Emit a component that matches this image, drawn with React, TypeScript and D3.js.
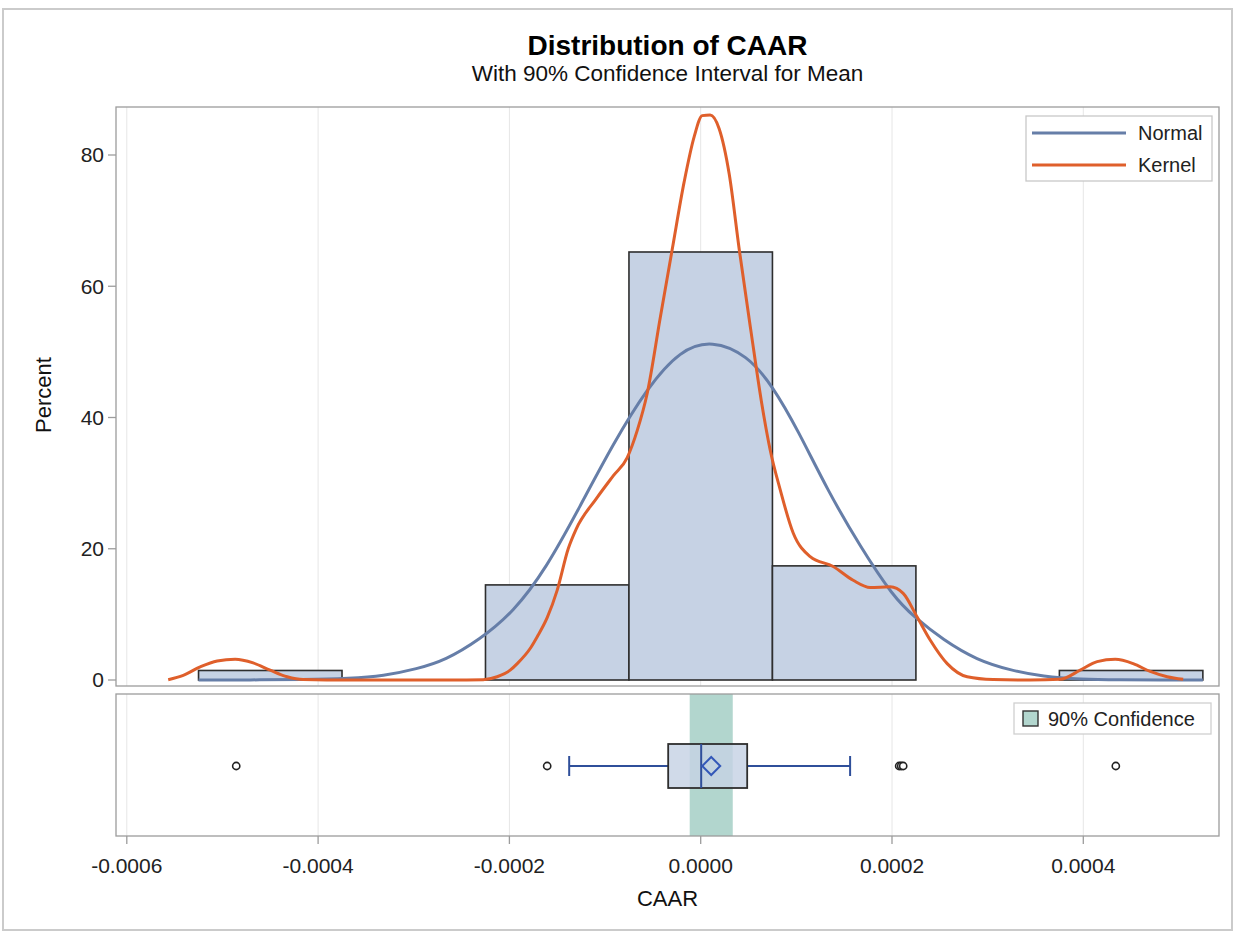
import React from "react";
import * as d3 from "d3";

// ---------- data ----------
const binLower = [-0.000525, -0.000375, -0.000225, -0.000075, 0.000075, 0.000225, 0.000375];
const binUpper = [-0.000375, -0.000225, -0.000075, 0.000075, 0.000225, 0.000375, 0.000525];
const binPercent = [1.449, 0, 14.49, 65.22, 17.39, 0, 1.449];

const normalX = [-5.25e-4, -4.71e-4, -4.156e-4, -3.665e-4, -3.319e-4, -2.964e-4, -2.671e-4, -2.316e-4, -1.96e-4, -1.615e-4, -1.26e-4, -0.915e-4, -0.56e-4, -0.214e-4, 0.12e-4, 0.486e-4, 0.748e-4, 1.019e-4, 1.323e-4, 1.668e-4, 2.013e-4, 2.232e-4, 2.535e-4, 2.891e-4, 3.236e-4, 3.581e-4, 3.968e-4, 4.386e-4, 4.804e-4, 5.25e-4];
const normalY = [0, 0.01, 0.06, 0.25, 0.6, 1.7, 3.0, 6.1, 10.3, 17.0, 26.5, 36.0, 44.5, 50.3, 51.8, 49.5, 44.9, 38.0, 29.0, 20.3, 12.7, 9.6, 6.1, 3.0, 1.5, 0.5, 0.1, 0.02, 0.0, 0];

const kernelX = [-5.567e-4, -5.41e-4, -5.233e-4, -5.055e-4, -4.867e-4, -4.679e-4, -4.501e-4, -4.323e-4, -4.156e-4, -3.664e-4, -3.142e-4, -2.619e-4, -2.274e-4, -2.128e-4, -1.992e-4, -1.918e-4, -1.783e-4, -1.709e-4, -1.605e-4, -1.5e-4, -1.385e-4, -1.302e-4, -1.093e-4, -0.915e-4, -0.768e-4, -0.664e-4, -0.559e-4, -0.423e-4, -0.298e-4, -0.173e-4, -0.068e-4, 0.016e-4, 0.099e-4, 0.193e-4, 0.298e-4, 0.403e-4, 0.528e-4, 0.633e-4, 0.727e-4, 0.831e-4, 0.967e-4, 1.145e-4, 1.385e-4, 1.594e-4, 1.772e-4, 1.981e-4, 2.117e-4, 2.263e-4, 2.399e-4, 2.577e-4, 2.786e-4, 3.058e-4, 3.445e-4, 3.759e-4, 3.968e-4, 4.145e-4, 4.334e-4, 4.522e-4, 4.699e-4, 4.877e-4, 5.044e-4];
const kernelY = [0.05, 0.7, 2.0, 2.9, 3.15, 2.6, 1.5, 0.5, 0.08, 0, 0, 0, 0.05, 0.5, 1.5, 2.5, 4.8, 6.6, 9.5, 13.7, 20.0, 23.0, 27.6, 31.1, 33.9, 38.0, 43.7, 55.2, 65.6, 75.9, 82.8, 86.0, 86.1, 84.0, 77.1, 65.6, 52.9, 42.6, 35.0, 29.0, 22.4, 18.8, 17.3, 15.2, 14.1, 14.2, 13.2, 9.6, 6.1, 2.5, 0.5, 0.08, 0, 0.1, 1.5, 2.8, 3.15, 2.5, 1.3, 0.5, 0.1];

const boxQ1 = -3.4e-5;
const boxMedian = 0.05e-5;
const boxQ3 = 4.86e-5;
const boxMean = 1.1e-5;
const whiskerLow = -1.375e-4;
const whiskerHigh = 1.562e-4;
const outliers = [-4.856e-4, -1.605e-4, 2.075e-4, 2.096e-4, 2.117e-4, 4.34e-4];
const ciMean = [-1.15e-5, 3.35e-5];

const xTicks = [-0.0006, -0.0004, -0.0002, 0, 0.0002, 0.0004];
const xTickLabels = ["-0.0006", "-0.0004", "-0.0002", "0.0000", "0.0002", "0.0004"];
const yTicks = [0, 20, 40, 60, 80];

const legendSeries = ["Normal", "Kernel"];

// ---------- layout ----------
const W = 1239;
const H = 933;
const plotL = 116;
const plotR = 1219;
const upTop = 107;
const upBot = 686;
const lowTop = 694;
const lowBot = 836;
const boxY = 766;
const boxHalf = 22;

const FONT = "'Liberation Sans', Arial, Helvetica, sans-serif";
const C_BAR = "#C6D2E4";
const C_EDGE = "#2e2e2e";
const C_NORMAL = "#667EA8";
const C_KERNEL = "#DF5F2B";
const C_BAND = "#B2D6CE";
const C_GRID = "#E6E6E6";
const C_BORDER = "#9C9C9C";
const C_BLUE = "#2F4F9A";

export default function App() {
  const x = d3.scaleLinear().domain([-0.0006, 0.0004]).range([126.8, 1083.3]);
  const y = d3.scaleLinear().domain([0, 80]).range([680, 155]);

  const normalLine = d3
    .line<[number, number]>()
    .x((d) => x(d[0]))
    .y((d) => y(d[1]))
    .curve(d3.curveBasis);
  const kernelLine = d3
    .line<[number, number]>()
    .x((d) => x(d[0]))
    .y((d) => y(d[1]))
    .curve(d3.curveMonotoneX);

  const normalPath = normalLine(normalX.map((v, i) => [v, normalY[i]] as [number, number])) || "";
  const kernelPath = kernelLine(kernelX.map((v, i) => [v, kernelY[i]] as [number, number])) || "";

  const diamondR = 9;
  const mx = x(boxMean);
  const midX = (plotL + plotR) / 2;

  return (
    <svg
      width={W}
      height={H}
      style={{ position: "absolute", left: 0, top: 0, background: "#fff" }}
      fontFamily={FONT}
    >
      <rect x={0} y={0} width={W} height={H} fill="#fff" />
      {/* outer frame */}
      <rect x={3} y={9} width={1229} height={921} fill="none" stroke="#CBCBCB" strokeWidth={2} />

      {/* titles */}
      <text x={midX} y={55} textAnchor="middle" fontSize={28} fontWeight="bold" fill="#000">
        Distribution of CAAR
      </text>
      <text x={midX} y={81} textAnchor="middle" fontSize={22.5} fill="#111">
        With 90% Confidence Interval for Mean
      </text>

      {/* ===== upper panel ===== */}
      <rect x={plotL} y={upTop} width={plotR - plotL} height={upBot - upTop} fill="#fff" />
      {xTicks.map((t) => (
        <line key={"gu" + t} x1={x(t)} x2={x(t)} y1={upTop} y2={upBot} stroke={C_GRID} strokeWidth={1} />
      ))}

      {/* histogram bars */}
      {binPercent.map((p, i) =>
        p > 0 ? (
          <rect
            key={"bar" + i}
            x={x(binLower[i])}
            y={y(p)}
            width={x(binUpper[i]) - x(binLower[i])}
            height={y(0) - y(p)}
            fill={C_BAR}
            stroke={C_EDGE}
            strokeWidth={1.6}
          />
        ) : null
      )}

      <path d={normalPath} fill="none" stroke={C_NORMAL} strokeWidth={3} strokeLinejoin="round" />
      <path d={kernelPath} fill="none" stroke={C_KERNEL} strokeWidth={3} strokeLinejoin="round" />

      <rect x={plotL} y={upTop} width={plotR - plotL} height={upBot - upTop} fill="none" stroke={C_BORDER} strokeWidth={1.3} />

      {/* y axis */}
      {yTicks.map((t) => (
        <g key={"yt" + t}>
          <line x1={plotL - 8} x2={plotL} y1={y(t)} y2={y(t)} stroke={C_BORDER} strokeWidth={1.3} />
          <text x={plotL - 12} y={y(t)} dy="0.35em" textAnchor="end" fontSize={21} fill="#222">
            {t}
          </text>
        </g>
      ))}
      <text transform={`translate(51,395) rotate(-90)`} textAnchor="middle" fontSize={22} fill="#111">
        Percent
      </text>

      {/* upper legend */}
      <rect x={1026} y={116} width={186} height={65} fill="#fff" stroke="#C8C8C8" strokeWidth={1.3} />
      {legendSeries.map((s, i) => (
        <g key={"lg" + s}>
          <line
            x1={1032}
            x2={1126}
            y1={133 + i * 32}
            y2={133 + i * 32}
            stroke={i === 0 ? C_NORMAL : C_KERNEL}
            strokeWidth={3}
          />
          <text x={1138} y={133 + i * 32} dy="0.35em" fontSize={20} fill="#222">
            {s}
          </text>
        </g>
      ))}

      {/* ===== lower panel ===== */}
      <rect x={plotL} y={lowTop} width={plotR - plotL} height={lowBot - lowTop} fill="#fff" />
      {xTicks.map((t) => (
        <line key={"gl" + t} x1={x(t)} x2={x(t)} y1={lowTop} y2={lowBot} stroke={C_GRID} strokeWidth={1} />
      ))}
      <rect
        x={x(ciMean[0])}
        y={lowTop}
        width={x(ciMean[1]) - x(ciMean[0])}
        height={lowBot - lowTop}
        fill={C_BAND}
      />

      {/* whiskers */}
      <line x1={x(whiskerLow)} x2={x(boxQ1)} y1={boxY} y2={boxY} stroke={C_BLUE} strokeWidth={2} />
      <line x1={x(boxQ3)} x2={x(whiskerHigh)} y1={boxY} y2={boxY} stroke={C_BLUE} strokeWidth={2} />
      <line x1={x(whiskerLow)} x2={x(whiskerLow)} y1={boxY - 10} y2={boxY + 10} stroke={C_BLUE} strokeWidth={2} />
      <line x1={x(whiskerHigh)} x2={x(whiskerHigh)} y1={boxY - 10} y2={boxY + 10} stroke={C_BLUE} strokeWidth={2} />

      {/* box */}
      <rect
        x={x(boxQ1)}
        y={boxY - boxHalf}
        width={x(boxQ3) - x(boxQ1)}
        height={boxHalf * 2}
        fill={C_BAR}
        fillOpacity={0.82}
        stroke={C_EDGE}
        strokeWidth={1.8}
      />
      <line x1={x(boxMedian)} x2={x(boxMedian)} y1={boxY - boxHalf} y2={boxY + boxHalf} stroke={C_BLUE} strokeWidth={2} />
      <path
        d={`M${mx},${boxY - diamondR} L${mx + diamondR},${boxY} L${mx},${boxY + diamondR} L${mx - diamondR},${boxY} Z`}
        fill="none"
        stroke="#3358B8"
        strokeWidth={2}
      />

      {/* outliers */}
      {outliers.map((o, i) => (
        <circle key={"o" + i} cx={x(o)} cy={boxY} r={3.6} fill="#fff" stroke="#222" strokeWidth={1.6} />
      ))}

      <rect x={plotL} y={lowTop} width={plotR - plotL} height={lowBot - lowTop} fill="none" stroke={C_BORDER} strokeWidth={1.3} />

      {/* lower legend */}
      <rect x={1014} y={703} width={197} height={31} fill="#fff" stroke="#D0D0D0" strokeWidth={1.3} />
      <rect x={1023} y={711} width={15} height={15} fill={C_BAND} stroke="#333" strokeWidth={1.4} />
      <text x={1048} y={718.5} dy="0.35em" fontSize={20} fill="#222">
        90% Confidence
      </text>

      {/* x axis */}
      {xTicks.map((t, i) => (
        <g key={"xt" + t}>
          <line x1={x(t)} x2={x(t)} y1={lowBot} y2={lowBot + 8} stroke={C_BORDER} strokeWidth={1.3} />
          <text x={x(t)} y={873} textAnchor="middle" fontSize={21} fill="#222">
            {xTickLabels[i]}
          </text>
        </g>
      ))}
      <text x={midX} y={906} textAnchor="middle" fontSize={22} fill="#111">
        CAAR
      </text>
    </svg>
  );
}
